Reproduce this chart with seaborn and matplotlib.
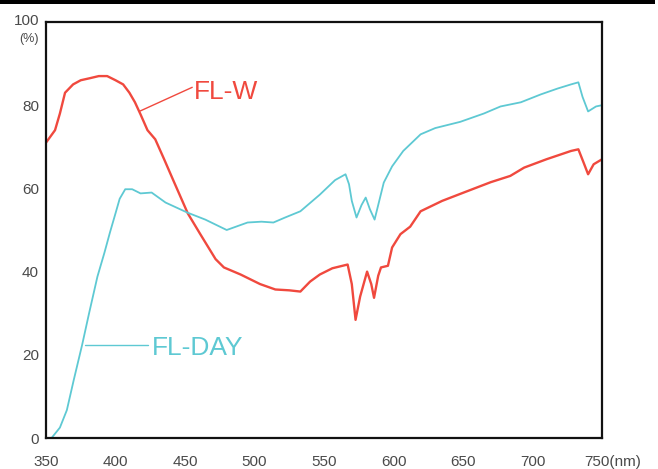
import matplotlib
matplotlib.use("Agg")
import matplotlib.pyplot as plt
import matplotlib.transforms as mtransforms
from matplotlib.patches import Rectangle
import pandas as pd
import seaborn as sns

# Spectral transmittance of two fluorescent filters
fl_w_nm = [350, 356.5, 360, 363.7, 369.5, 375, 381.7, 388, 394, 400, 405.5, 410,
           414, 418, 423, 428.6, 435, 441.5, 452, 461, 472, 478, 490, 504, 515,
           525, 533, 540, 547, 556, 567, 570, 572.7, 576, 581, 584, 586, 589, 591,
           596, 599, 605, 612, 619.5, 635, 650.5, 670, 684, 694, 710, 727.7, 733,
           737, 740, 744, 750]
fl_w_pct = [71, 74, 78, 83, 85, 86, 86.5, 87, 87, 86, 85, 83,
            80.7, 77.8, 74, 71.8, 67, 62, 54, 49, 43, 41, 39.3, 37, 35.7,
            35.5, 35.2, 37.6, 39.3, 40.8, 41.7, 37, 28.4, 34, 40, 37, 33.7, 39, 41,
            41.4, 45.8, 49, 50.8, 54.5, 57, 59, 61.5, 63, 65, 67, 69, 69.4,
            66, 63.4, 65.8, 67]

fl_day_nm = [354, 360, 365, 370, 376, 381, 387, 392, 396, 400, 403, 407, 412,
             418, 426, 436, 451.6, 464.6, 480, 495, 505, 513.6, 522, 533, 547,
             558, 565.5, 568, 570, 573.4, 577, 580, 583, 586.4, 589, 593, 599, 607,
             619.5, 630, 648, 665, 677, 691.6, 706, 718, 727.7, 733, 736, 740,
             745.7, 750]
fl_day_pct = [0, 2.5, 6.7, 14, 22.4, 30, 38.8, 44.5, 49.4, 54, 57.5, 59.8, 59.8,
              58.8, 59, 56.6, 54.2, 52.5, 50, 51.8, 52, 51.8, 53, 54.5, 58.5,
              62, 63.4, 61, 57, 53, 56, 57.8, 55, 52.5, 56, 61.4, 65.3, 69,
              73, 74.5, 76, 78, 79.7, 80.7, 82.6, 84, 85, 85.5, 82, 78.5,
              79.7, 80]

x_ticks = [350, 400, 450, 500, 550, 600, 650, 700, 750]
y_ticks = [0, 20, 40, 60, 80]

RED = "#f0493e"
CYAN = "#5ec9d3"
GRAY = "#4a4a4a"

df = pd.concat([
    pd.DataFrame({"nm": fl_w_nm, "pct": fl_w_pct, "filter": "FL-W"}),
    pd.DataFrame({"nm": fl_day_nm, "pct": fl_day_pct, "filter": "FL-DAY"}),
], ignore_index=True)

sns.set_style("white")
plt.rcParams["font.family"] = ["Liberation Sans", "DejaVu Sans"]

fig = plt.figure(figsize=(6.58, 4.69), dpi=100)
ax = fig.add_axes([46 / 658, 31 / 469, 556 / 658, 416 / 469])

sns.lineplot(data=df, x="nm", y="pct", hue="filter", units="filter",
             estimator=None, sort=False, palette={"FL-W": RED, "FL-DAY": CYAN},
             legend=False, ax=ax)
for line, lw in zip(ax.get_lines(), [1.7, 1.3]):
    line.set_linewidth(lw)
    line.set_solid_joinstyle("round")

ax.set_xlim(350, 750)
ax.set_ylim(0, 100)
ax.set_xlabel("")
ax.set_ylabel("")

# the last x label carries the unit, drawn separately below
ax.set_xticks(x_ticks)
ax.set_xticklabels([str(v) for v in x_ticks[:-1]] + [""])
ax.set_yticks(y_ticks)
ax.set_yticklabels([str(v) for v in y_ticks])
ax.tick_params(axis="x", direction="in", length=5, width=1, pad=12,
               labelsize=11, labelcolor=GRAY, color="#222222")
ax.tick_params(axis="y", direction="in", length=4.5, width=1, pad=5,
               labelsize=11, labelcolor=GRAY, color="#222222")

for s in ax.spines.values():
    s.set_linewidth(1.6)
    s.set_color("#111111")
    s.set_visible(True)

# unit labels
nm_tr = ax.get_xaxis_transform() + mtransforms.ScaledTranslation(0, -12 / 72, fig.dpi_scale_trans)
ax.text(737, 0, "750(nm)", transform=nm_tr, ha="left", va="top",
        fontsize=11, color=GRAY, clip_on=False)
lbl_tr = ax.get_yaxis_transform() + mtransforms.ScaledTranslation(-5 / 72, 0, fig.dpi_scale_trans)
ax.text(0, 100.3, "100", transform=lbl_tr, ha="right", va="center",
        fontsize=11, color=GRAY, clip_on=False)
ax.text(0, 95.9, "(%)", transform=lbl_tr, ha="right", va="center",
        fontsize=9, color=GRAY, clip_on=False)

# series labels with leader lines
ax.plot([417.7, 455.2], [78.6, 84.3], color=RED, lw=1.0)
ax.text(456.2, 83.1, "FL-W", color=RED, fontsize=19, ha="left", va="center")
ax.plot([378.1, 423.5], [22.4, 22.4], color=CYAN, lw=1.0)
ax.text(426.4, 21.7, "FL-DAY", color=CYAN, fontsize=19, ha="left", va="center")

# header rule
fig.add_artist(Rectangle((0, 1 - 4 / 469), 655 / 658, 4 / 469,
                         transform=fig.transFigure, color="black", lw=0))

fig.savefig("out.png", dpi=100)
